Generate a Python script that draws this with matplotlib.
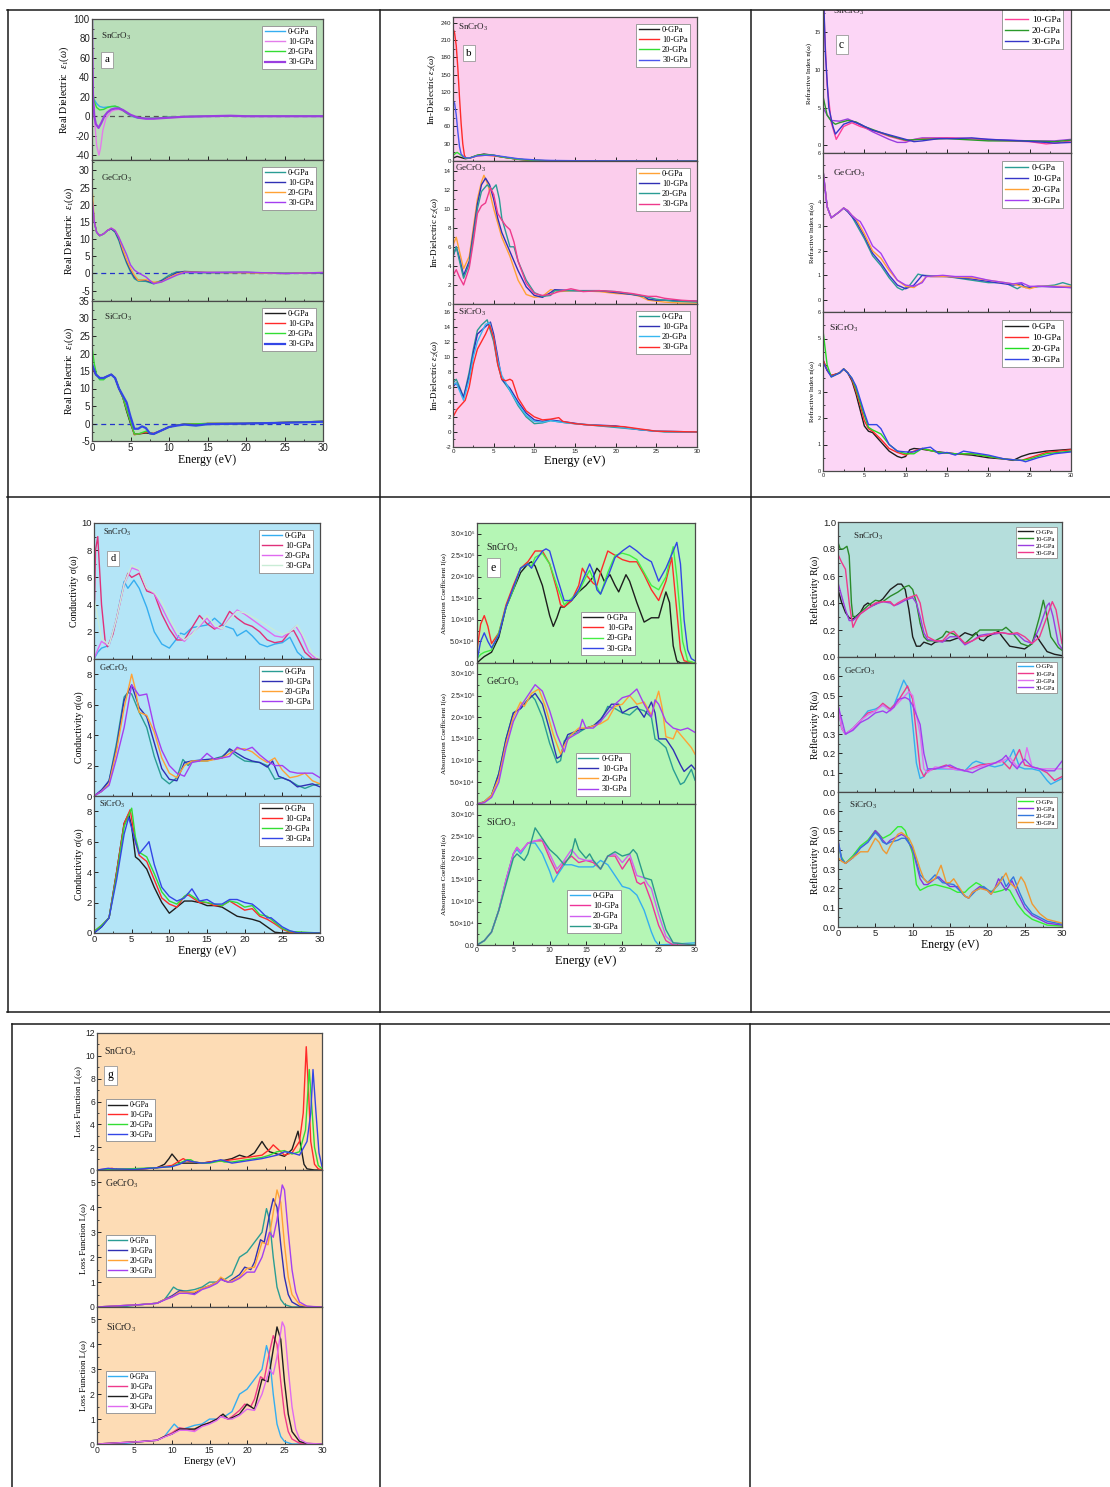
import matplotlib

matplotlib.use("Agg")

import matplotlib.pyplot as plt  # noqa: E402
from matplotlib.lines import Line2D  # noqa: E402
from matplotlib.patches import Rectangle  # noqa: E402
from matplotlib.ticker import MultipleLocator, FixedLocator, FixedFormatter  # noqa: E402

W, H = 1110, 1487
SERIF = ["Liberation Serif", "DejaVu Serif"]
SANS = ["Liberation Sans", "DejaVu Sans"]
plt.rcParams["font.family"] = SANS
plt.rcParams["mathtext.fontset"] = "custom"
plt.rcParams["mathtext.rm"] = "Liberation Serif"
plt.rcParams["mathtext.it"] = "Liberation Serif:italic"
plt.rcParams["mathtext.bf"] = "Liberation Serif:bold"

PRESSURES = ["0-GPa", "10-GPa", "20-GPa", "30-GPa"]
PRESSURES_O = ["O-GPa", "10-GPa", "20-GPa", "30-GPa"]
TITLES = ["SnCrO$_3$", "GeCrO$_3$", "SiCrO$_3$"]

# ---------------- (a) real dielectric eps1 ----------------
A_SN = {
    "0-GPa": [(0, 20), (0.3, 17), (0.6, 13), (1, 10), (1.5, 9), (2, 9.5), (2.5, 10), (3, 10), (3.5, 9), (4, 6), (4.5, 3), (5, 0.5), (5.5, -1), (6, -2), (7, -2.3), (8, -2.2), (9, -1.5), (10, -1), (12, -0.5), (15, 0), (18, 0.3), (20, 0), (25, 0), (30, 0)],
    "10-GPa": [(0, 110), (0.1, 40), (0.3, 0), (0.6, -30), (0.9, -40), (1.1, -33), (1.4, -15), (1.8, -2), (2.5, 5), (3, 6.5), (3.5, 7), (4, 5.5), (4.5, 3), (5, 1), (5.5, -0.5), (6, -1.5), (7, -2.5), (8, -2.5), (9, -2), (10, -1.5), (12, -0.5), (15, 0), (18, 0.5), (20, 0), (25, 0), (30, 0)],
    "20-GPa": [(0, 45), (0.1, 25), (0.3, 15), (0.6, 9), (1, 6.5), (1.5, 7), (2, 9), (2.5, 10), (3, 10.5), (3.5, 9), (4, 6), (4.5, 3), (5, 1), (5.5, -0.5), (6, -1.5), (7, -2.2), (8, -2), (10, -1), (12, -0.3), (15, 0), (20, 0), (25, 0), (30, 0)],
    "30-GPa": [(0, 110), (0.05, 60), (0.12, 20), (0.3, 0), (0.5, -8), (0.85, -12), (1.2, -7), (1.6, 0), (2, 4), (2.5, 7), (3, 8), (3.5, 8), (4, 6.5), (4.5, 4), (5, 1.5), (5.5, 0), (6, -1.5), (7, -2.5), (8, -2.5), (9, -2), (10, -1.5), (12, -0.5), (15, 0), (18, 0.5), (20, 0), (25, 0), (30, 0)],
}
A_GE = {
    "0-GPa": [(0, 22), (0.3, 15), (0.6, 12), (1, 11), (1.5, 11.5), (2, 12.5), (2.5, 13), (3, 12), (3.5, 9.5), (4, 6), (4.5, 3), (5, 0.5), (5.5, -1.5), (6, -2.2), (7, -2.3), (8, -3), (9, -2), (10, -0.5), (11, 0.5), (12, 0.3), (15, 0.2), (20, 0.3), (25, 0.1), (30, 0.2)],
    "10-GPa": [(0, 22), (0.3, 15), (0.6, 12), (1, 11), (1.5, 11.5), (2, 12.5), (2.5, 13), (3, 12.2), (3.5, 10), (4, 6.5), (4.5, 3.5), (5, 1), (5.5, -1), (6, -2), (7, -2), (8, -2.8), (9, -2.2), (10, -1), (11, 0.2), (12, 0.6), (15, 0.3), (20, 0.3), (25, 0), (30, 0.2)],
    "20-GPa": [(0, 25), (0.3, 15), (0.6, 12), (1, 11), (1.5, 11.5), (2, 12.5), (2.5, 13.2), (3, 12.5), (3.5, 10.5), (4, 7), (4.5, 4), (5, 1.5), (5.5, -0.5), (6, -2), (7, -1.8), (8, -2.5), (9, -2.5), (10, -1.2), (11, -0.2), (12, 0.4), (15, 0.3), (20, 0.2), (25, 0), (30, 0.3)],
    "30-GPa": [(0, 22), (0.3, 15), (0.6, 12), (1, 11), (1.5, 11.5), (2, 12.5), (2.5, 13.2), (3, 12.5), (3.5, 10.5), (4, 8), (4.5, 5.5), (5, 2.5), (5.5, 1), (6, 0.2), (7, -1), (8, -3), (9, -2.5), (10, -1.5), (11, -0.5), (12, 0.3), (15, 0.3), (20, 0.4), (25, 0), (30, 0.3)],
}
A_SI = {
    "0-GPa": [(0, 16), (0.5, 14), (1, 13), (1.5, 13), (2, 13.5), (2.5, 14), (3, 13), (3.5, 10), (4, 7.5), (4.5, 3.5), (5, 0), (5.5, -3), (6, -3), (7, -2.7), (8, -3), (9, -2), (10, -1), (11, -0.5), (12, -0.2), (14, -0.3), (15, 0), (20, 0), (25, 0.3), (30, 0.6)],
    "10-GPa": [(0, 16), (0.5, 14), (1, 13), (1.5, 13), (2, 13.5), (2.5, 14), (3, 13), (3.5, 10), (4, 7.5), (4.5, 4), (5, 0.5), (5.5, -3.2), (6, -3), (7, -2.5), (8, -2.8), (9, -2), (10, -1), (11, -0.5), (12, -0.2), (15, 0), (20, 0), (25, 0.3), (30, 0.6)],
    "20-GPa": [(0, 22), (0.3, 17), (0.6, 14), (1, 12.5), (1.5, 12.5), (2, 13.5), (2.5, 14), (3, 13), (3.5, 10), (4, 7.5), (4.5, 4), (5, 0.5), (5.5, -3), (6, -3), (7, -2.2), (8, -3), (9, -2), (10, -1), (11, -0.5), (12, -0.2), (15, 0), (20, 0), (25, 0.3), (30, 0.6)],
    "30-GPa": [(0, 17), (0.5, 14), (1, 13), (1.5, 13), (2, 13.5), (2.5, 14), (3, 13), (3.5, 10), (4, 8), (4.5, 6), (5, 2), (5.5, -1.5), (6, -1.5), (6.5, -0.8), (7, -1.3), (7.5, -2.8), (8, -3), (9, -2), (10, -1), (11, -0.6), (12, -0.3), (13.5, -0.6), (15, -0.2), (20, 0), (25, 0.2), (30, 0.5)],
}

# ---------------- (b) imaginary dielectric eps2 ----------------
B_SN = {
    "0-GPa": [(0, 5), (0.5, 8), (1, 6), (1.5, 4), (2, 5), (3, 10), (3.8, 12), (5, 10), (6, 7), (7, 5), (8, 3), (10, 1), (12, 0.2), (15, 0), (30, 0)],
    "10-GPa": [(0, 230), (0.2, 222), (0.4, 200), (0.6, 160), (0.8, 110), (1, 65), (1.2, 30), (1.4, 10), (1.6, 5), (2, 5), (3, 9), (4, 10), (5, 9), (6, 7), (7, 5), (8, 3), (10, 1), (12, 0.3), (15, 0), (30, 0)],
    "20-GPa": [(0, 10), (0.5, 15), (1, 10), (1.5, 5), (2, 5), (3, 10), (4, 11), (5, 10), (6, 7), (8, 3), (10, 1), (12, 0.3), (15, 0), (30, 0)],
    "30-GPa": [(0, 105), (0.2, 100), (0.4, 80), (0.6, 50), (0.8, 25), (1, 12), (1.4, 6), (2, 5), (3, 9), (4, 10), (5, 10), (6, 8), (8, 4), (10, 2), (12, 1), (15, 0.5), (20, 0.3), (30, 0)],
}
B_GE = {
    "0-GPa": [(0, 6.2), (0.4, 7), (0.8, 5.5), (1.3, 3.7), (2, 5), (2.5, 8), (3, 11), (3.5, 12.8), (3.8, 13.5), (4.3, 12.5), (5, 10), (5.5, 8.5), (6, 7), (7, 5), (8, 2.5), (9, 1), (10, 0.7), (11, 0.8), (12, 1.5), (13, 1.3), (15, 1.4), (18, 1.3), (20, 1.1), (22, 1), (23, 0.8), (24, 0.4), (26, 0.2), (28, 0.1), (30, 0.1)],
    "10-GPa": [(0, 5), (0.4, 6), (0.8, 4.8), (1.3, 3), (2, 4.5), (2.5, 7.5), (3, 10.5), (3.5, 12.5), (4, 13.2), (4.5, 12.5), (5, 11), (5.5, 9), (6, 7.5), (7, 5.5), (8, 3.5), (9, 1.8), (10, 0.9), (11, 0.7), (12, 1.2), (12.5, 1.5), (15, 1.4), (18, 1.4), (20, 1.2), (22, 1), (23.5, 0.8), (24, 0.5), (25, 0.4), (26, 0.4), (30, 0.3)],
    "20-GPa": [(0, 5), (0.4, 6), (0.8, 4.5), (1.3, 2.7), (2, 4.2), (2.5, 7), (3, 10), (3.5, 11.8), (4.2, 12.5), (4.8, 12), (5.3, 12.5), (5.7, 11), (6, 9), (7, 6), (7.5, 6), (8, 4.5), (9, 2.5), (10, 1.2), (11, 0.8), (12, 0.9), (12.5, 1.4), (15, 1.4), (18, 1.4), (20, 1.3), (23, 0.9), (25, 0.5), (27, 0.3), (30, 0.2)],
    "30-GPa": [(0, 3), (0.4, 3.6), (0.8, 2.8), (1.3, 2), (2, 3.8), (2.5, 6.5), (3, 9.5), (3.5, 10.3), (4, 10.6), (4.6, 12.2), (5, 11.5), (5.5, 9.5), (6, 8.8), (6.5, 8.2), (7, 7.8), (7.5, 6.5), (8, 4.5), (9, 2.2), (10, 1.1), (11, 0.9), (12, 1.0), (13, 1.3), (14.5, 1.6), (16, 1.3), (18, 1.4), (20, 1.3), (22, 1.1), (24, 0.8), (25, 0.8), (26, 0.6), (28, 0.4), (30, 0.3)],
}
B_SI = {
    "0-GPa": [(0, 6.5), (0.4, 7), (0.8, 6), (1.3, 4.6), (2, 8), (2.5, 11), (3, 13.5), (3.5, 14.2), (4.2, 14.9), (5, 12), (5.5, 9), (6, 7), (7, 5.5), (8, 3.5), (9, 2), (10, 1.1), (11, 1.2), (12, 1.5), (14, 1.2), (16, 1), (20, 0.6), (24, 0.2), (26, 0), (30, 0)],
    "10-GPa": [(0, 6), (0.4, 6.5), (0.8, 5.8), (1.3, 4.6), (2, 7.5), (2.5, 10.5), (3, 13), (4, 14), (4.6, 14.6), (5, 13), (5.5, 10), (6, 7), (7, 5.8), (8, 4), (9, 2.5), (10, 1.6), (11, 1.4), (12, 1.6), (14, 1.3), (16, 1), (20, 0.8), (23, 0.3), (25, 0.1), (30, 0)],
    "20-GPa": [(0, 6.3), (0.4, 6.5), (0.8, 5.5), (1.3, 4.2), (2, 7), (2.5, 10), (3, 12), (4, 14.3), (4.5, 14.5), (5, 12.5), (5.5, 9.5), (6, 7.5), (7, 5.5), (8, 3.7), (9, 2.2), (10, 1.4), (11, 1.3), (12, 1.5), (14, 1.2), (16, 1), (20, 0.7), (23, 0.3), (25, 0.1), (30, 0)],
    "30-GPa": [(0, 2), (0.5, 3), (1, 3.6), (1.5, 4.2), (2, 6), (2.5, 9), (3, 11), (3.5, 12), (4, 13), (4.5, 14.2), (5, 12.5), (5.5, 9), (6, 7), (6.5, 6.8), (7, 7), (7.3, 6.8), (8, 4.5), (9, 2.8), (10, 2), (11, 1.6), (12, 1.7), (13, 1.9), (13.5, 1.4), (15, 1.1), (17, 0.9), (19, 0.8), (21, 0.7), (23, 0.4), (25, 0.1), (30, 0)],
}

# ---------------- (c) refractive index ----------------
C_SN = {
    "0-GPa": [(0, 5), (0.5, 4), (1, 3.3), (2, 3.2), (3, 3.5), (4, 3), (5, 2.4), (6, 1.8), (8, 0.8), (9, 0.4), (10, 0.4), (11, 0.8), (12, 1.0), (15, 1), (20, 0.8), (25, 0.6), (28, 0.6), (30, 0.8)],
    "10-GPa": [(0, 22), (0.2, 15), (0.5, 8), (1, 3), (1.6, 0.8), (2.5, 2.5), (3.5, 3), (4.5, 2.5), (6, 2), (8, 1.2), (10, 0.6), (12, 0.9), (15, 1), (18, 0.9), (20, 0.7), (25, 0.5), (27, 0.2), (28, 0.3), (30, 0.6)],
    "20-GPa": [(0, 6.5), (0.5, 4), (1, 3.2), (1.5, 2.8), (2, 3), (3, 3.3), (4, 3.1), (5, 2.5), (6, 2.1), (8, 1.3), (10, 0.7), (12, 0.8), (15, 0.9), (20, 0.6), (25, 0.6), (28, 0.5), (30, 0.7)],
    "30-GPa": [(0, 22), (0.3, 12), (0.7, 5), (1.2, 2.5), (1.5, 1.5), (2.5, 2.8), (3.5, 3.2), (4.5, 2.8), (6, 2), (8, 1.4), (10, 0.8), (11, 0.5), (12, 0.6), (14, 0.9), (16, 0.9), (18, 1), (20, 0.8), (24, 0.6), (27, 0.4), (28, 0.3), (30, 0.4)],
}
C_GE = {
    "0-GPa": [(0, 5.3), (0.5, 3.8), (1, 3.35), (2, 3.6), (2.5, 3.75), (3, 3.6), (3.5, 3.4), (4, 3.1), (5, 2.5), (6, 1.8), (7, 1.4), (8, 0.9), (9, 0.5), (9.6, 0.4), (10.5, 0.6), (11.5, 1.05), (12, 1.0), (15, 0.95), (18, 0.8), (20, 0.7), (22, 0.7), (23.5, 0.45), (24, 0.55), (25, 0.5), (28, 0.6), (29, 0.7), (30, 0.6)],
    "10-GPa": [(0, 5.3), (0.5, 3.8), (1, 3.35), (2, 3.6), (2.5, 3.75), (3, 3.6), (3.5, 3.4), (4, 3.2), (5, 2.6), (6, 1.9), (7, 1.5), (8, 1.0), (9, 0.6), (10, 0.45), (11, 0.6), (12, 1.0), (13, 0.95), (15, 0.95), (18, 0.85), (20, 0.75), (23, 0.6), (24, 0.65), (24.5, 0.5), (26, 0.55), (30, 0.5)],
    "20-GPa": [(0, 5.3), (0.5, 3.8), (1, 3.35), (2, 3.6), (2.5, 3.75), (3, 3.65), (3.5, 3.45), (4, 3.3), (5, 2.7), (6, 2.0), (7, 1.7), (8, 1.2), (9, 0.8), (10, 0.55), (11, 0.5), (12, 0.75), (12.5, 0.95), (15, 0.95), (18, 0.9), (20, 0.8), (23, 0.65), (25, 0.45), (26, 0.55), (30, 0.55)],
    "30-GPa": [(0, 5.3), (0.5, 3.8), (1, 3.35), (2, 3.6), (2.5, 3.75), (3, 3.65), (3.5, 3.45), (4, 3.3), (4.5, 3.2), (5, 2.9), (6, 2.2), (7, 1.9), (7.5, 1.6), (8, 1.3), (9, 0.8), (10, 0.6), (11, 0.55), (12, 0.7), (12.5, 0.95), (14.5, 1.0), (16, 0.95), (18, 0.95), (20, 0.8), (23, 0.65), (24, 0.7), (25, 0.55), (27, 0.55), (30, 0.5)],
}
C_SI = {
    "0-GPa": [(0, 4.2), (0.5, 3.8), (1, 3.6), (2, 3.7), (2.5, 3.85), (3, 3.7), (3.5, 3.4), (4, 2.9), (4.5, 2.3), (5, 1.7), (5.5, 1.5), (6, 1.45), (7, 1.1), (8, 0.75), (9, 0.55), (9.5, 0.5), (10, 0.55), (10.5, 0.8), (11, 0.85), (12, 0.82), (14, 0.72), (16, 0.65), (18, 0.6), (20, 0.5), (22, 0.45), (23, 0.4), (24, 0.55), (25, 0.65), (27, 0.75), (30, 0.82)],
    "10-GPa": [(0, 4.2), (0.5, 3.8), (1, 3.6), (2, 3.7), (2.5, 3.85), (3, 3.7), (3.5, 3.45), (4, 3.0), (4.5, 2.5), (5, 1.9), (5.5, 1.6), (6, 1.5), (7, 1.2), (8, 0.85), (9, 0.7), (10, 0.6), (11, 0.75), (12, 0.85), (14, 0.7), (16, 0.65), (18, 0.65), (20, 0.55), (22, 0.45), (24, 0.4), (25, 0.5), (27, 0.7), (30, 0.8)],
    "20-GPa": [(0, 5.3), (0.5, 4.0), (1, 3.55), (2, 3.7), (2.5, 3.85), (3, 3.7), (3.5, 3.5), (4, 3.1), (5, 2.1), (5.5, 1.65), (6, 1.55), (7, 1.4), (8, 1.0), (9, 0.75), (10, 0.65), (11, 0.65), (12, 0.85), (14, 0.7), (16, 0.65), (18, 0.65), (20, 0.55), (22, 0.45), (24, 0.4), (25, 0.45), (27, 0.65), (30, 0.75)],
    "30-GPa": [(0, 4.1), (0.5, 3.8), (1, 3.55), (2, 3.7), (2.5, 3.85), (3, 3.7), (3.5, 3.5), (4, 3.2), (5, 2.2), (5.5, 1.75), (6, 1.75), (6.5, 1.75), (7, 1.6), (8, 1.0), (9, 0.75), (10, 0.72), (11, 0.72), (12, 0.85), (13, 0.9), (14, 0.65), (15, 0.7), (16, 0.6), (17, 0.75), (18, 0.7), (20, 0.6), (22, 0.45), (24, 0.4), (24.5, 0.35), (26, 0.5), (28, 0.65), (30, 0.72)],
}

# ---------------- (d) optical conductivity ----------------
D_SN = {
    "0-GPa": [(0, 0), (0.5, 0.5), (1, 0.8), (2, 1), (3, 3), (4, 5.7), (4.5, 5.2), (5.3, 5.8), (6, 5.2), (7, 3.8), (8, 2), (9, 1.1), (10, 0.8), (11, 1.5), (11.5, 1.9), (12, 1.8), (13, 2.3), (15, 2.5), (16, 3.0), (17, 2.5), (18, 2.3), (18.5, 2.2), (19, 1.7), (20.2, 2.1), (21, 1.7), (22, 1.1), (23, 0.9), (24, 1.1), (25, 1.2), (26, 1.6), (27, 0.5), (28, 0), (30, 0)],
    "10-GPa": [(0, 2), (0.2, 8), (0.5, 9), (1, 4), (1.5, 1.2), (1.8, 0.9), (2.5, 1.8), (3, 3), (4, 5.5), (4.5, 6.3), (5, 6.0), (6, 6.3), (7, 5.0), (8, 4.8), (9, 3.3), (10, 2.2), (11, 1.4), (12, 1.4), (13, 2.3), (14, 3.2), (15, 2.6), (16, 2.2), (17, 2.5), (18, 3.5), (19, 3.0), (20, 2.6), (21, 2.4), (22, 2.0), (23, 1.4), (24, 1.2), (25, 1.3), (26, 2.0), (26.5, 2.1), (27, 1.6), (28, 0.5), (29, 0), (30, 0)],
    "20-GPa": [(0, 0), (0.5, 0.7), (1, 1.3), (1.5, 1.1), (2, 1.0), (3, 3), (4, 5.5), (5, 6.7), (6, 6.5), (7, 5.2), (8, 4.8), (9, 3.8), (10, 2.7), (11, 1.7), (12, 1.3), (13, 1.9), (14, 2.4), (15, 3.0), (16, 2.3), (17, 2.2), (18, 3.0), (19, 3.6), (20, 3.3), (22, 2.5), (23, 2.1), (24, 1.7), (25, 1.6), (26, 2.0), (26.8, 2.4), (27.5, 1.8), (28.5, 0.5), (29.5, 0), (30, 0)],
    "30-GPa": [(0, 4.5), (0.5, 3), (1, 1.5), (2, 1), (3, 3), (4, 5.5), (5, 6.9), (6, 6.6), (7, 5.2), (8, 4.9), (9, 4.2), (10, 3.0), (11, 2.0), (12, 1.4), (13, 1.8), (14, 2.5), (15, 3.2), (16, 2.5), (17, 2.2), (18, 2.9), (19, 3.5), (20, 3.4), (22, 2.8), (24, 2.1), (25, 1.8), (26, 2.0), (27, 2.5), (28, 1.5), (29, 0.4), (30, 0)],
}
D_GE = {
    "0-GPa": [(0, 0), (1, 0.3), (2, 1), (3, 3.5), (4, 6.5), (4.5, 6.8), (5, 6.7), (6, 5.5), (7, 4.5), (8, 2.6), (9, 1.2), (10, 0.8), (11, 1.2), (11.8, 2.4), (12.5, 2.0), (13, 2.3), (15, 2.3), (17, 2.6), (18, 3.0), (19, 2.6), (20, 2.3), (22, 2.2), (23, 2.0), (24, 1.1), (25, 1.2), (26, 1.0), (27, 0.7), (28, 0.5), (29, 0.7), (30, 0.8)],
    "10-GPa": [(0, 0), (1, 0.4), (2, 1), (3, 3.2), (4, 6.3), (5, 7.3), (6, 5.8), (7, 5.2), (8, 3.5), (9, 1.8), (10, 1.1), (11, 1.0), (12, 2.2), (13, 2.3), (15, 2.4), (17, 2.5), (18, 3.1), (19, 2.8), (20, 2.5), (21, 2.3), (22, 2.2), (23, 1.9), (23.7, 2.3), (24.5, 1.3), (26, 1.0), (27, 0.6), (29, 0.8), (30, 0.6)],
    "20-GPa": [(0, 0), (1, 0.3), (2, 0.8), (3, 3), (4, 5.8), (5, 8.0), (5.5, 7), (6, 5.5), (7, 5.3), (8, 4.2), (9, 2.5), (10, 1.5), (11, 1.2), (12, 2.0), (13, 2.3), (15, 2.3), (17, 2.5), (18, 2.8), (19, 3.1), (20, 3.1), (21, 2.9), (22, 2.5), (23, 2.2), (24, 2.5), (25, 1.7), (26, 1.2), (27, 1.3), (28, 1.5), (29, 1.0), (30, 0.8)],
    "30-GPa": [(0, 0), (1, 0.3), (2, 0.7), (3, 2.5), (4, 4.5), (5, 7.3), (6, 6.6), (7, 6.7), (8, 4.5), (9, 3.0), (10, 2.0), (11, 1.5), (12, 1.3), (13, 2.2), (14, 2.3), (15, 2.8), (16, 2.4), (17, 2.5), (18, 2.6), (19, 3.2), (20, 3.0), (21, 3.2), (22, 2.7), (23, 2.3), (24, 2.0), (25, 2.0), (26, 1.6), (27, 1.5), (28, 1.5), (29, 1.5), (30, 1.2)],
}
D_SI = {
    "0-GPa": [(0, 0), (1, 0.4), (2, 1), (3, 4), (4, 7.2), (4.6, 7.8), (5, 7), (5.5, 5), (6, 4.8), (7, 4.2), (8, 3), (9, 2), (10, 1.3), (11, 1.7), (12, 2.1), (13, 2.1), (14, 2.0), (15, 1.8), (16, 1.8), (17, 1.7), (18, 1.4), (19, 1.1), (20, 1.0), (21, 0.9), (22, 0.75), (23, 0.4), (24, 0.05), (25, 0), (30, 0)],
    "10-GPa": [(0, 0.1), (1, 0.5), (2, 1), (3, 4), (4, 7.2), (4.8, 8.1), (5.5, 6), (6, 5.1), (7, 4.7), (8, 3.5), (9, 2.3), (10, 1.9), (11, 1.7), (12, 2.4), (12.5, 2.5), (14, 2.0), (15, 2.0), (16, 1.8), (17, 1.8), (18, 2.1), (19, 1.8), (20, 1.5), (21, 1.6), (22, 1.1), (23, 0.9), (24, 0.6), (25, 0.25), (26, 0.05), (30, 0)],
    "20-GPa": [(0, 0.1), (1, 0.5), (2, 1), (3, 3.8), (4, 7), (5, 8.2), (5.5, 6.3), (6, 5.3), (7, 5.0), (8, 3.9), (9, 2.7), (10, 2.1), (11, 1.9), (12, 2.4), (12.5, 2.6), (14, 2.1), (15, 2.0), (16, 1.9), (17, 1.8), (18, 2.1), (19, 2.0), (20, 1.7), (21, 1.8), (22, 1.2), (23, 1.1), (24, 0.7), (25, 0.3), (26, 0.1), (30, 0)],
    "30-GPa": [(0, 0), (1, 0.4), (2, 1), (3, 3.5), (4, 6.5), (4.6, 7.6), (5.5, 6), (6, 5.2), (7, 5.8), (7.3, 6.0), (8, 4.5), (9, 3), (10, 2.4), (11, 2.1), (12, 2.3), (13, 2.9), (13.5, 2.5), (14, 2.1), (15, 2.2), (16, 1.9), (17, 1.9), (18, 2.2), (19, 2.2), (20, 2.0), (21, 1.9), (22, 1.5), (23, 1.0), (23.5, 1.0), (24, 0.8), (25, 0.4), (26, 0.15), (27, 0.02), (30, 0)],
}

# ---------------- (e) absorption coefficient, units of 1e5 ----------------
E_SN = {
    "0-GPa": [(0, 0), (0.5, 0.08), (1, 0.15), (2, 0.25), (3, 0.6), (4, 1.3), (5, 1.7), (6, 2.1), (7, 2.3), (7.5, 2.35), (8, 2.25), (9, 1.8), (10, 1.1), (10.5, 0.85), (11, 1.05), (11.5, 1.3), (12, 1.3), (13, 1.45), (14, 1.65), (15, 1.8), (16, 2.0), (16.5, 2.2), (17, 2.1), (17.5, 1.9), (18.3, 2.05), (19, 1.8), (19.5, 1.65), (20.5, 2.05), (21, 1.9), (22, 1.4), (23, 0.95), (24, 1.05), (25, 1.05), (26, 1.65), (26.5, 1.4), (27, 0.4), (27.5, 0.05), (28, 0), (30, 0)],
    "10-GPa": [(0, 0.3), (0.5, 0.9), (1, 1.1), (1.5, 0.85), (2, 0.45), (3, 0.7), (4, 1.35), (5, 1.8), (6, 2.2), (7, 2.35), (8, 2.6), (9, 2.6), (10, 2.3), (11, 1.7), (11.5, 1.35), (12, 1.3), (13, 1.45), (14, 1.8), (14.5, 2.2), (15, 2.05), (16, 1.85), (16.5, 1.8), (17, 2.1), (18, 2.6), (19, 2.5), (20, 2.4), (21, 2.35), (22, 2.35), (23, 2.05), (24, 1.7), (25, 1.45), (26, 1.9), (26.8, 2.45), (27.5, 1.2), (28, 0.3), (28.5, 0.05), (30, 0)],
    "20-GPa": [(0, 0.1), (0.5, 0.2), (1, 0.25), (2, 0.3), (3, 0.7), (4, 1.3), (5, 1.7), (6, 2.2), (7, 2.3), (7.5, 2.25), (8, 2.45), (9, 2.55), (10, 2.3), (11, 1.8), (12, 1.35), (13, 1.5), (14, 1.65), (15, 2.0), (15.5, 2.15), (16, 1.95), (17, 1.6), (18, 2.1), (19, 2.5), (20, 2.55), (21, 2.5), (22, 2.4), (23, 2.1), (24, 1.8), (25, 1.7), (26, 2.0), (27, 2.7), (27.5, 2.0), (28.3, 0.5), (29, 0.05), (30, 0)],
    "30-GPa": [(0, 0.05), (0.5, 0.5), (1, 0.7), (1.5, 0.5), (2, 0.35), (3, 0.65), (4, 1.3), (5, 1.75), (6, 2.2), (7, 2.3), (7.5, 2.2), (8, 2.35), (9, 2.6), (9.5, 2.65), (10, 2.6), (11, 2.0), (12, 1.45), (13, 1.45), (14, 1.7), (15, 2.1), (15.5, 2.3), (16, 2.1), (16.5, 1.7), (17, 1.6), (18, 2.0), (19, 2.45), (20, 2.6), (21, 2.72), (22, 2.6), (23, 2.45), (24, 2.35), (25, 1.9), (26, 2.2), (27, 2.6), (27.5, 2.8), (28, 2.3), (28.5, 1.0), (29, 0.3), (29.5, 0.1), (30, 0.05)],
}
E_GE = {
    "0-GPa": [(0, 0), (1, 0.05), (2, 0.2), (3, 0.7), (4, 1.5), (5, 2.1), (6, 2.2), (7, 2.4), (7.5, 2.5), (8, 2.4), (9, 2.0), (10, 1.4), (11, 0.95), (11.5, 1.0), (12, 1.45), (13, 1.6), (14, 1.65), (15, 1.75), (16, 1.8), (17, 1.9), (18, 2.25), (19, 2.2), (20, 2.1), (21, 2.05), (22, 2.2), (23, 2.15), (24, 2.0), (24.5, 1.5), (25, 1.45), (26, 1.3), (27, 0.8), (28, 0.45), (28.5, 0.5), (29.5, 0.8), (30, 0.55)],
    "10-GPa": [(0, 0), (1, 0.05), (2, 0.2), (3, 0.7), (4, 1.5), (5, 2.1), (6, 2.2), (7, 2.4), (8, 2.55), (9, 2.3), (10, 1.7), (11, 1.05), (11.5, 1.1), (12, 1.4), (12.5, 1.6), (14, 1.7), (16, 1.8), (17, 1.95), (18.5, 2.3), (19.5, 2.3), (20, 2.1), (21, 2.2), (22, 2.25), (23, 2.0), (24, 2.35), (24.5, 2.1), (25, 1.5), (26, 1.5), (27, 1.25), (28, 0.9), (28.5, 0.75), (29.5, 0.9), (30, 0.8)],
    "20-GPa": [(0, 0), (1, 0.05), (2, 0.2), (3, 0.6), (4, 1.4), (5, 2.0), (6, 2.35), (6.5, 2.25), (7.5, 2.55), (8.5, 2.65), (9.5, 2.2), (10.5, 1.6), (11.5, 1.15), (12, 1.35), (13, 1.6), (14, 1.75), (15, 1.75), (16, 1.8), (17, 1.85), (18, 1.95), (19, 2.25), (20, 2.3), (21, 2.5), (22, 2.3), (23, 2.35), (24, 2.05), (25, 2.6), (25.5, 2.2), (26, 1.55), (27, 1.5), (27.5, 1.7), (28.5, 1.5), (29.5, 1.3), (30, 1.15)],
    "30-GPa": [(0, 0), (1, 0.03), (2, 0.15), (3, 0.5), (4, 1.3), (5, 1.9), (6, 2.25), (7, 2.5), (8, 2.75), (9, 2.6), (10, 2.15), (11, 1.6), (12, 1.2), (12.5, 1.5), (13, 1.55), (14, 1.65), (14.5, 1.95), (15, 1.75), (16, 1.75), (17, 1.9), (18, 2.1), (19, 2.3), (20, 2.45), (21, 2.5), (22, 2.65), (23, 2.3), (24, 2.0), (24.5, 2.4), (25, 2.3), (26, 1.9), (27, 1.75), (28, 1.7), (29, 1.75), (30, 1.65)],
}
E_SI = {
    "0-GPa": [(0, 0), (1, 0.1), (2, 0.3), (3, 0.8), (4, 1.5), (5, 2.1), (5.5, 2.2), (6, 2.1), (7, 2.35), (8, 2.35), (9, 2.1), (10, 1.7), (10.5, 1.45), (11, 1.6), (12, 1.85), (13, 1.85), (14, 1.8), (15, 1.8), (16, 1.8), (17, 1.95), (18, 1.85), (19, 1.6), (20, 1.35), (21, 1.3), (22, 1.15), (23, 0.8), (24, 0.3), (24.5, 0.1), (25, 0), (30, 0.05)],
    "10-GPa": [(0, 0), (1, 0.1), (2, 0.3), (3, 0.8), (4, 1.5), (5, 2.1), (5.5, 2.25), (6, 2.15), (7, 2.35), (8, 2.4), (9, 2.4), (10, 2.0), (11, 1.65), (12, 1.9), (13, 2.05), (14, 1.9), (15, 1.95), (16, 1.9), (17, 1.75), (18, 2.05), (19, 2.05), (20, 1.75), (21, 2.0), (22, 1.45), (22.5, 1.4), (23, 1.45), (24, 1.0), (25, 0.45), (26, 0.1), (27, 0), (30, 0)],
    "20-GPa": [(0, 0), (1, 0.1), (2, 0.3), (3, 0.8), (4, 1.5), (5, 2.1), (5.5, 2.25), (6, 2.15), (7, 2.35), (8, 2.4), (9, 2.45), (10, 2.1), (11, 1.75), (12, 1.95), (13, 2.2), (14, 2.0), (15, 1.95), (16, 1.95), (17, 1.75), (18, 2.05), (19, 2.1), (20, 1.9), (21, 2.1), (22, 1.6), (23, 1.55), (23.5, 1.4), (24, 1.3), (25, 0.7), (26, 0.2), (27, 0.05), (30, 0)],
    "30-GPa": [(0, 0), (1, 0.1), (2, 0.3), (3, 0.8), (4, 1.4), (5, 2.0), (5.5, 2.1), (6.5, 1.95), (7, 2.1), (8, 2.7), (9, 2.45), (10, 2.2), (11, 2.05), (12, 1.85), (13, 2.1), (13.5, 2.45), (14, 2.2), (15, 2.0), (15.5, 2.1), (16, 1.95), (17, 1.75), (18, 2.05), (19, 2.15), (20, 2.05), (21, 2.1), (21.5, 2.2), (22, 2.1), (23, 1.55), (24, 1.5), (25, 0.9), (26, 0.35), (27, 0.05), (30, 0)],
}

# ---------------- (f) reflectivity ----------------
F_SN = {
    "O-GPa": [(0, 0.5), (0.5, 0.4), (1, 0.33), (1.5, 0.29), (2, 0.28), (3, 0.33), (3.5, 0.38), (4, 0.4), (4.5, 0.38), (5, 0.39), (6, 0.43), (7, 0.5), (8, 0.54), (8.5, 0.54), (9, 0.5), (9.5, 0.35), (10, 0.15), (10.5, 0.08), (11, 0.08), (11.5, 0.11), (12, 0.1), (12.5, 0.09), (13, 0.11), (14, 0.12), (15, 0.12), (16, 0.14), (17, 0.18), (18, 0.16), (18.5, 0.18), (19, 0.13), (19.5, 0.12), (20, 0.15), (21.5, 0.19), (22, 0.15), (23, 0.08), (24, 0.07), (25, 0.06), (26, 0.1), (26.5, 0.17), (27, 0.12), (28, 0.04), (29, 0.02), (30, 0.01)],
    "10-GPa": [(0, 0.85), (0.3, 0.8), (0.7, 0.8), (1.2, 0.82), (1.5, 0.75), (1.8, 0.4), (2, 0.3), (2.5, 0.3), (3, 0.33), (4, 0.38), (5, 0.42), (6, 0.41), (7, 0.45), (8, 0.48), (9, 0.52), (9.5, 0.53), (10, 0.5), (10.5, 0.4), (11, 0.25), (11.5, 0.15), (12, 0.12), (13, 0.12), (14, 0.15), (14.5, 0.19), (15.5, 0.17), (16, 0.15), (17, 0.1), (18, 0.15), (19, 0.2), (20, 0.2), (21, 0.2), (22, 0.2), (22.5, 0.22), (23.5, 0.17), (24.5, 0.1), (25.5, 0.08), (26, 0.1), (27, 0.3), (27.5, 0.42), (28, 0.3), (28.5, 0.15), (29.5, 0.07), (30, 0.05)],
    "20-GPa": [(0, 0.55), (0.5, 0.45), (1, 0.35), (1.5, 0.27), (2, 0.27), (3, 0.32), (4, 0.36), (5, 0.39), (6, 0.41), (7, 0.4), (7.5, 0.38), (8, 0.39), (9, 0.42), (10, 0.44), (10.5, 0.4), (11, 0.3), (11.5, 0.18), (12, 0.13), (13, 0.12), (14, 0.11), (15, 0.15), (16, 0.15), (17, 0.09), (18, 0.12), (19, 0.16), (20, 0.17), (21, 0.17), (22, 0.18), (23, 0.17), (24, 0.17), (25, 0.12), (26, 0.1), (27, 0.22), (28, 0.38), (28.3, 0.4), (28.8, 0.3), (29.5, 0.1), (30, 0.06)],
    "30-GPa": [(0, 0.76), (0.5, 0.7), (1, 0.65), (1.5, 0.4), (2, 0.22), (2.5, 0.28), (3, 0.32), (4, 0.36), (5, 0.4), (6, 0.41), (7, 0.41), (7.5, 0.38), (8, 0.4), (9, 0.43), (10, 0.45), (10.5, 0.46), (11, 0.4), (11.5, 0.25), (12, 0.15), (13, 0.12), (14, 0.12), (15, 0.18), (15.5, 0.19), (16, 0.16), (17, 0.1), (18, 0.12), (19, 0.15), (20, 0.16), (21, 0.18), (22, 0.18), (23, 0.17), (24, 0.18), (25, 0.15), (26, 0.1), (27, 0.15), (28, 0.3), (28.7, 0.41), (29.2, 0.35), (30, 0.1)],
}
F_GE = {
    "O-GPa": [(0, 0.45), (0.5, 0.33), (1, 0.3), (2, 0.33), (3, 0.37), (4, 0.42), (5, 0.43), (5.5, 0.44), (6, 0.45), (7, 0.43), (7.5, 0.45), (8, 0.5), (8.5, 0.55), (8.8, 0.58), (9.5, 0.53), (10, 0.35), (10.5, 0.15), (11, 0.07), (11.5, 0.08), (12, 0.12), (13, 0.12), (15, 0.12), (17, 0.11), (18, 0.15), (18.5, 0.16), (20, 0.14), (21, 0.13), (22, 0.14), (23, 0.18), (23.5, 0.22), (24.3, 0.13), (25, 0.12), (26, 0.12), (27, 0.11), (28, 0.06), (28.5, 0.04), (29.5, 0.06), (30, 0.07)],
    "10-GPa": [(0, 0.45), (0.5, 0.33), (1, 0.3), (2, 0.33), (3, 0.37), (4, 0.41), (5, 0.42), (6, 0.46), (7, 0.43), (8, 0.47), (9, 0.53), (9.3, 0.55), (10, 0.48), (10.5, 0.3), (11, 0.12), (11.5, 0.08), (12, 0.11), (13, 0.12), (14.5, 0.14), (15, 0.13), (17, 0.11), (19, 0.14), (21, 0.15), (22, 0.16), (23, 0.12), (24.3, 0.22), (25, 0.14), (26, 0.13), (27, 0.12), (28, 0.1), (29, 0.06), (30, 0.08)],
    "20-GPa": [(0, 0.45), (0.5, 0.33), (1, 0.3), (2, 0.33), (3, 0.37), (4, 0.4), (5, 0.42), (6, 0.45), (7, 0.42), (8, 0.46), (9, 0.5), (9.5, 0.52), (10, 0.5), (11, 0.3), (11.5, 0.12), (12, 0.1), (13, 0.13), (15, 0.12), (17, 0.11), (19, 0.13), (21, 0.15), (22, 0.16), (23, 0.18), (24, 0.13), (25, 0.17), (25.3, 0.23), (26, 0.13), (27, 0.12), (29, 0.12), (30, 0.12)],
    "30-GPa": [(0, 0.45), (1, 0.3), (2, 0.32), (3, 0.36), (4, 0.38), (5, 0.41), (6, 0.42), (6.5, 0.41), (7.5, 0.44), (8, 0.48), (9, 0.49), (9.5, 0.48), (10, 0.45), (11, 0.35), (11.5, 0.2), (12, 0.12), (13, 0.12), (15, 0.14), (16, 0.12), (17, 0.11), (18, 0.1), (19, 0.12), (21, 0.15), (22, 0.17), (22.5, 0.19), (23, 0.16), (24, 0.12), (24.5, 0.15), (25, 0.17), (26, 0.13), (27, 0.12), (28, 0.11), (29, 0.11), (30, 0.16)],
}
F_SI = {
    "O-GPa": [(0, 0.42), (0.5, 0.36), (1, 0.33), (2, 0.37), (3, 0.42), (4, 0.45), (5, 0.5), (5.5, 0.48), (6, 0.46), (7, 0.48), (8, 0.52), (8.5, 0.52), (9, 0.5), (10, 0.38), (10.5, 0.22), (11, 0.19), (12, 0.21), (13, 0.22), (14, 0.21), (15, 0.2), (16, 0.18), (17, 0.18), (17.5, 0.2), (18.5, 0.23), (19, 0.22), (20, 0.19), (21, 0.18), (22, 0.19), (22.5, 0.2), (23, 0.19), (24, 0.12), (25, 0.07), (26, 0.04), (28, 0.01), (30, 0.005)],
    "10-GPa": [(0, 0.45), (0.5, 0.35), (1, 0.33), (2, 0.36), (3, 0.41), (4, 0.44), (5, 0.5), (5.5, 0.48), (6, 0.45), (6.5, 0.43), (7, 0.45), (8, 0.47), (8.5, 0.48), (9, 0.47), (10, 0.4), (11, 0.25), (11.5, 0.22), (12, 0.22), (13, 0.25), (13.5, 0.26), (14, 0.24), (15, 0.21), (16, 0.21), (17, 0.16), (17.5, 0.15), (18, 0.18), (19, 0.21), (20, 0.19), (20.5, 0.17), (21, 0.2), (21.5, 0.25), (22, 0.22), (22.5, 0.19), (23, 0.22), (23.3, 0.24), (24, 0.18), (25, 0.1), (26, 0.06), (28, 0.02), (30, 0.01)],
    "20-GPa": [(0, 0.45), (0.5, 0.35), (1, 0.33), (2, 0.36), (3, 0.41), (4, 0.44), (5, 0.49), (5.5, 0.47), (6, 0.44), (6.5, 0.43), (7, 0.44), (8, 0.45), (8.5, 0.46), (9, 0.46), (10, 0.41), (11, 0.27), (12, 0.23), (13, 0.27), (14, 0.23), (15.5, 0.22), (17, 0.16), (17.5, 0.15), (18.5, 0.19), (19.5, 0.21), (20.5, 0.18), (21.5, 0.22), (22, 0.26), (22.5, 0.21), (23.5, 0.26), (24.3, 0.18), (25, 0.12), (26, 0.07), (28, 0.03), (30, 0.015)],
    "30-GPa": [(0, 0.36), (0.5, 0.34), (1, 0.33), (2, 0.36), (3, 0.39), (4, 0.39), (5, 0.46), (5.5, 0.44), (6, 0.4), (6.5, 0.38), (7, 0.42), (8, 0.48), (8.5, 0.49), (9.5, 0.46), (10, 0.42), (11, 0.3), (11.5, 0.25), (12, 0.23), (13, 0.25), (13.8, 0.32), (14.5, 0.23), (15, 0.23), (15.5, 0.25), (16, 0.22), (17, 0.16), (17.5, 0.15), (18, 0.18), (19, 0.2), (20, 0.19), (20.5, 0.17), (21, 0.2), (22, 0.25), (22.5, 0.28), (23, 0.23), (23.8, 0.2), (24.5, 0.26), (25, 0.23), (26, 0.12), (27, 0.07), (28, 0.04), (30, 0.02)],
}

# ---------------- (g) energy loss function ----------------
G_SN = {
    "0-GPa": [(0, 0), (2, 0.05), (4, 0.05), (6, 0.1), (8, 0.2), (9, 0.5), (9.6, 1.0), (10, 1.4), (10.5, 1.0), (11, 0.6), (12, 0.6), (14, 0.6), (15, 0.7), (16, 0.8), (17, 0.85), (18, 1.0), (19, 1.3), (20, 1.1), (21, 1.5), (22, 2.5), (22.5, 2.0), (23, 1.6), (24, 1.4), (25, 1.2), (26, 1.8), (26.5, 2.8), (26.8, 3.4), (27.2, 2.0), (27.6, 0.5), (28, 0.1), (29, 0), (30, 0)],
    "10-GPa": [(0, 0), (1.5, 0.1), (2, 0.15), (2.5, 0.05), (5, 0.05), (8, 0.2), (10, 0.4), (11, 0.8), (11.5, 1.0), (12, 0.8), (13, 0.7), (14, 0.6), (15, 0.7), (16, 0.8), (17, 0.8), (18, 0.9), (20, 1.1), (22, 1.3), (23, 1.8), (23.5, 2.2), (24, 1.9), (25, 1.3), (26, 1.5), (27, 2.5), (27.5, 5), (27.9, 10.8), (28.2, 7), (28.5, 2.5), (29, 0.5), (29.5, 0.1), (30, 0)],
    "20-GPa": [(0, 0), (2, 0.05), (8, 0.2), (10, 0.3), (11, 0.6), (12, 0.9), (12.5, 0.9), (13, 0.7), (14, 0.6), (15, 0.6), (16.5, 0.8), (17, 0.7), (18, 0.7), (20, 0.9), (22, 1.1), (23, 1.3), (24, 1.6), (25, 1.7), (26, 1.4), (27, 1.6), (27.8, 3.5), (28.3, 8.8), (28.7, 5), (29, 2), (29.5, 0.4), (30, 0.1)],
    "30-GPa": [(0, 0), (1.5, 0.15), (2, 0.1), (5, 0.05), (8, 0.2), (10, 0.3), (11, 0.5), (12, 0.85), (13, 0.7), (14, 0.6), (15, 0.65), (16.5, 0.9), (17, 0.8), (18, 0.6), (20, 0.8), (22, 1.0), (24, 1.3), (25, 1.6), (26, 1.5), (27, 1.3), (28, 2.5), (28.5, 5), (28.8, 8.8), (29.2, 5), (29.6, 1.5), (30, 0.3)],
}
G_GE = {
    "0-GPa": [(0, 0), (4, 0.03), (6, 0.1), (8, 0.15), (9, 0.3), (9.5, 0.5), (10.2, 0.8), (10.7, 0.7), (11.5, 0.65), (12, 0.65), (13, 0.7), (14, 0.8), (15, 1.0), (16, 1.0), (16.5, 1.15), (17, 1.1), (18, 1.3), (19, 2.0), (20, 2.2), (21, 2.6), (22, 3.0), (22.6, 3.95), (23, 3.5), (23.5, 2.0), (24, 0.8), (24.5, 0.3), (25, 0.1), (26, 0), (30, 0)],
    "10-GPa": [(0, 0), (6, 0.1), (8, 0.15), (9, 0.3), (10, 0.45), (11, 0.65), (12, 0.6), (13, 0.55), (14, 0.75), (15, 0.85), (16, 1.0), (16.5, 1.15), (17, 1.05), (17.5, 1.0), (18, 1.1), (19, 1.3), (19.7, 1.6), (20.5, 1.5), (21, 1.8), (21.8, 2.7), (22.3, 2.6), (23, 3.7), (23.5, 4.35), (24, 4.0), (24.5, 2.5), (25, 1.2), (25.5, 0.5), (26, 0.2), (27, 0.03), (30, 0)],
    "20-GPa": [(0, 0), (6, 0.1), (8, 0.15), (9, 0.3), (10, 0.4), (11, 0.6), (12, 0.6), (13, 0.6), (14, 0.75), (15, 0.85), (16, 1.0), (16.5, 1.2), (17.5, 1.0), (18, 1.05), (19, 1.2), (20, 1.55), (21, 1.6), (22, 2.6), (22.8, 2.5), (23.5, 3.8), (24, 4.7), (24.5, 4.2), (25, 2.5), (25.5, 1.2), (26, 0.5), (27, 0.1), (28, 0.02), (30, 0)],
    "30-GPa": [(0, 0), (6, 0.1), (8, 0.15), (9, 0.28), (10, 0.4), (11, 0.55), (12, 0.55), (13, 0.5), (14, 0.7), (15, 0.8), (16, 0.95), (16.5, 1.1), (17.5, 1.0), (18, 1.0), (19, 1.15), (20, 1.4), (21, 1.4), (22, 2.0), (23, 3.0), (23.5, 2.8), (24, 3.5), (24.7, 4.9), (25, 4.7), (25.5, 3.0), (26, 1.5), (26.5, 0.6), (27, 0.2), (28, 0.03), (30, 0)],
}
G_SI = {
    "0-GPa": [(0, 0), (4, 0.03), (6, 0.1), (8, 0.15), (9, 0.3), (9.5, 0.5), (10.3, 0.8), (10.8, 0.65), (11.5, 0.6), (12, 0.65), (13, 0.75), (14, 0.8), (15, 1.0), (16, 1.0), (16.5, 1.1), (17, 1.1), (18, 1.3), (19, 2.0), (20, 2.2), (21, 2.6), (22, 3.0), (22.6, 3.95), (23, 3.5), (23.5, 2.0), (24, 0.8), (24.5, 0.3), (25, 0.1), (26, 0), (30, 0)],
    "10-GPa": [(0, 0), (6, 0.1), (8, 0.15), (9, 0.3), (10, 0.45), (11, 0.65), (12, 0.6), (13, 0.55), (14, 0.75), (15, 0.85), (16, 1.0), (16.5, 1.15), (17, 1.05), (17.5, 1.0), (18, 1.1), (19, 1.35), (19.7, 1.6), (20.5, 1.5), (21, 1.8), (21.8, 2.7), (22.3, 2.6), (23, 3.7), (23.5, 4.35), (24, 4.0), (24.5, 2.5), (25, 1.2), (25.5, 0.5), (26, 0.2), (27, 0.03), (30, 0)],
    "20-GPa": [(0, 0), (6, 0.1), (8, 0.15), (9, 0.3), (10, 0.4), (11, 0.6), (12, 0.6), (13, 0.6), (14, 0.75), (15, 0.85), (16, 1.0), (16.8, 1.2), (17.5, 1.0), (18, 1.05), (19, 1.2), (20, 1.6), (21, 1.4), (22, 2.6), (22.8, 2.5), (23.5, 3.8), (24, 4.7), (24.5, 4.2), (25, 2.5), (25.5, 1.2), (26, 0.5), (27, 0.1), (28, 0.02), (30, 0)],
    "30-GPa": [(0, 0), (6, 0.1), (8, 0.15), (9, 0.28), (10, 0.4), (11, 0.55), (12, 0.55), (13, 0.5), (14, 0.7), (15, 0.8), (16, 0.95), (16.5, 1.1), (17.5, 1.0), (18, 1.0), (19, 1.15), (20, 1.4), (21, 1.35), (22, 2.0), (23, 3.0), (23.5, 2.8), (24, 3.5), (24.7, 4.9), (25, 4.7), (25.5, 3.0), (26, 1.5), (26.5, 0.6), (27, 0.2), (28, 0.03), (30, 0)],
}

# colours per sub-plot (0, 10, 20, 30 GPa)
BLACK, RED, GREEN, BLUE = "#1e1e1e", "#ff2a2a", "#33dd33", "#3346e6"
TEAL, DBLUE, ORANGE, PURPLE = "#2a9d94", "#3030b4", "#ffa235", "#a43ff0"
LBLUE, PINK, VIOLET, MAGENTA = "#35aef0", "#ee3a8c", "#e06af0", "#e0307a"

PANELS = [
    dict(key="a", x=(92, 323), y=(19, 160, 301, 441), face="#b9deb9",
         ylabel="Real Dielectric  $\\varepsilon_1(\\omega)$",
         data=[A_SN, A_GE, A_SI],
         colors=[[LBLUE, "#e47ceb", GREEN, "#9a3ee0"], [TEAL, DBLUE, ORANGE, PURPLE], [BLACK, RED, GREEN, BLUE]],
         ylims=[(-45, 100), (-8, 33), (-5, 35)],
         yticks=[range(-40, 101, 20), range(-5, 31, 5), range(-5, 36, 5)],
         zero=["#555555", "#2233cc", "#2233cc"],
         fs=dict(tick=7, ylab=7.2, leg=6, title=6.5, xlab=8.5),
         title_pos=[(0.04, 0.88), (0.04, 0.87), (0.05, 0.88)], letter_pos=(0.065, 0.71),
         leg=["ur", "ur", "ur"], show_xlab=True),
    dict(key="b", x=(453, 697), y=(17, 161, 304, 447), face="#fbcdec",
         ylabel="Im-Dielectric $\\varepsilon_2(\\omega)$",
         data=[B_SN, B_GE, B_SI],
         colors=[[BLACK, RED, GREEN, "#4a56ee"], [ORANGE, DBLUE, TEAL, PINK], [TEAL, DBLUE, "#38b8f0", RED]],
         ylims=[(0, 250), (0, 15), (-2, 17)],
         yticks=[range(0, 241, 30), range(0, 15, 2), range(-2, 17, 2)],
         zero=[None, None, None],
         fs=dict(tick=4.5, ylab=6.5, leg=6, title=6.5, xlab=9),
         title_pos=[(0.02, 0.93), (0.01, 0.95), (0.02, 0.94)], letter_pos=(0.065, 0.75),
         leg=["ur", "ur", "ur"], show_xlab=True),
    dict(key="c", x=(823, 1071), y=(-6, 153, 312, 471), face="#fcd6f6",
         ylabel="Refractive Index n(ω)",
         data=[C_SN, C_GE, C_SI],
         colors=[["#9a3ee0", "#ff3f98", "#2a9a2a", "#3636c8"], [TEAL, "#3636c8", ORANGE, PURPLE], [BLACK, RED, "#22dd22", BLUE]],
         ylims=[(-1, 20), (-0.5, 6), (0, 6)],
         yticks=[range(0, 16, 5), range(0, 7, 1), range(0, 7, 1)],
         zero=[None, None, None],
         fs=dict(tick=4, ylab=5, leg=6.8, title=6.8, xlab=8),
         title_pos=[(0.04, 0.89), (0.04, 0.87), (0.025, 0.9)], letter_pos=(0.075, 0.68),
         leg=["ur", "ur", "ur"], show_xlab=False),
    dict(key="d", x=(94, 320), y=(523, 659, 796, 933), face="#b4e5f7",
         ylabel="Conductivity σ(ω)",
         data=[D_SN, D_GE, D_SI],
         colors=[[LBLUE, MAGENTA, VIOLET, "#c9ecd6"], [TEAL, DBLUE, ORANGE, PURPLE], [BLACK, RED, GREEN, BLUE]],
         ylims=[(0, 10), (0, 9), (0, 9)],
         yticks=[range(0, 11, 2), range(0, 9, 2), range(0, 9, 2)],
         zero=[None, None, None],
         fs=dict(tick=6.8, ylab=7, leg=6, title=6, xlab=8.5),
         title_pos=[(0.04, 0.93), (0.02, 0.93), (0.02, 0.94)], letter_pos=(0.085, 0.74),
         leg=["ur", "ur", "ur"], show_xlab=True),
    dict(key="e", x=(477, 695), y=(523, 663, 804, 945), face="#b5f6b5",
         ylabel="Absorption Coefficient I(ω)",
         data=[E_SN, E_GE, E_SI],
         colors=[[BLACK, RED, "#44ee44", BLUE], [TEAL, DBLUE, ORANGE, PURPLE], [LBLUE, "#ee3399", "#d060f0", "#2a9a8a"]],
         ylims=[(0, 3.25), (0, 3.25), (0, 3.25)],
         yticks=[None, None, None],
         zero=[None, None, None],
         fs=dict(tick=5, ylab=5.2, leg=6, title=7, xlab=9),
         title_pos=[(0.04, 0.82), (0.04, 0.87), (0.04, 0.87)], letter_pos=(0.075, 0.68),
         leg=[(0.477, 0.057), (0.454, 0.057), (0.413, 0.085)], show_xlab=True),
    dict(key="f", x=(838, 1062), y=(522, 657, 792, 927), face="#b5dedc",
         ylabel="Reflectivity R(ω)",
         data=[F_SN, F_GE, F_SI],
         colors=[[BLACK, "#2a8a2a", "#9a3ee0", PINK], [LBLUE, PINK, "#e070f0", "#a040f0"], ["#33ee33", "#8833dd", "#3377dd", "#ee9933"]],
         ylims=[(0, 1.0), (0, 0.7), (0, 0.7)],
         yticks=[[0, 0.2, 0.4, 0.6, 0.8, 1.0], [0, 0.1, 0.2, 0.3, 0.4, 0.5, 0.6], [0, 0.1, 0.2, 0.3, 0.4, 0.5, 0.6]],
         zero=[None, None, None],
         fs=dict(tick=6.8, ylab=7, leg=4.6, title=6.5, xlab=8.5),
         title_pos=[(0.065, 0.89), (0.025, 0.89), (0.05, 0.9)], letter_pos=None,
         leg=["ur", "ur", "ur"], show_xlab=True),
    dict(key="g", x=(97, 322), y=(1033, 1170, 1307, 1444), face="#fddcb5",
         ylabel="Loss Function L(ω)",
         data=[G_SN, G_GE, G_SI],
         colors=[[BLACK, RED, GREEN, BLUE], [TEAL, DBLUE, ORANGE, PURPLE], [LBLUE, PINK, BLACK, VIOLET]],
         ylims=[(0, 12), (0, 5.5), (0, 5.5)],
         yticks=[range(0, 13, 2), range(0, 6, 1), range(0, 6, 1)],
         zero=[None, None, None],
         fs=dict(tick=6.2, ylab=6.5, leg=5.5, title=7, xlab=7.5),
         title_pos=[(0.03, 0.86), (0.035, 0.9), (0.04, 0.85)], letter_pos=(0.06, 0.69),
         leg=[(0.04, 0.21), (0.04, 0.22), (0.04, 0.226)], show_xlab=True),
]

E_TICKS = [0, 0.5, 1.0, 1.5, 2.0, 2.5, 3.0]
E_LABELS = ["0.0", "5.0×10⁴", "1.0×10⁵", "1.5×10⁵", "2.0×10⁵", "2.5×10⁵", "3.0×10⁵"]


def px_box(l, t, r, b):
    return [l / W, 1 - b / H, (r - l) / W, (b - t) / H]


def fig_line(fig, x0, y0, x1, y1):
    fig.add_artist(Line2D([x0 / W, x1 / W], [1 - y0 / H, 1 - y1 / H],
                          transform=fig.transFigure, color="#1a1a1a", lw=1.1, zorder=20))


def draw_panel(fig, p):
    l, r = p["x"]
    edges = p["y"]
    fs = p["fs"]
    for i in range(3):
        ax = fig.add_axes(px_box(l, edges[i], r, edges[i + 1]))
        ax.set_facecolor(p["face"])
        curves = p["data"][i]
        for (name, pts), col in zip(curves.items(), p["colors"][i]):
            xs = [pt[0] for pt in pts]
            ys = [pt[1] for pt in pts]
            lw = 1.6 if (p["key"] == "a" and name == "30-GPa" and i != 1) else 1.0
            ax.plot(xs, ys, color=col, lw=lw, label=name, solid_joinstyle="round")
        if p["zero"][i]:
            ax.axhline(0, color=p["zero"][i], ls=(0, (4, 3)), lw=0.9, zorder=1)
        ax.set_xlim(0, 30)
        ax.set_ylim(*p["ylims"][i])
        ax.xaxis.set_major_locator(MultipleLocator(5))
        ax.xaxis.set_minor_locator(MultipleLocator(2.5))
        if p["key"] == "e":
            ax.yaxis.set_major_locator(FixedLocator(E_TICKS))
            ax.yaxis.set_major_formatter(FixedFormatter(E_LABELS))
            ax.yaxis.set_minor_locator(MultipleLocator(0.25))
        else:
            ticks = list(p["yticks"][i])
            ax.yaxis.set_major_locator(FixedLocator(ticks))
            if p["key"] == "f":
                ax.yaxis.set_major_formatter(FixedFormatter([f"{t:.1f}" for t in ticks]))
            else:
                ax.yaxis.set_major_formatter(FixedFormatter([f"{t:g}" for t in ticks]))
            step = ticks[1] - ticks[0]
            ax.yaxis.set_minor_locator(MultipleLocator(step / 2))
        ax.tick_params(which="major", direction="in", length=3, width=0.7,
                       labelsize=fs["tick"], pad=1.5, colors="#222222")
        ax.tick_params(which="minor", direction="in", length=1.6, width=0.6, colors="#222222")
        for s in ax.spines.values():
            s.set_color("#4a4a4a")
            s.set_linewidth(0.9)
        if i < 2:
            ax.tick_params(labelbottom=False)
        elif p["show_xlab"]:
            ax.set_xlabel("Energy (eV)", family=SERIF, fontsize=fs["xlab"], labelpad=1)
        ax.set_ylabel(p["ylabel"], family=SERIF, fontsize=fs["ylab"], labelpad=2)

        tx, ty = p["title_pos"][i]
        ax.text(tx, ty, TITLES[i], transform=ax.transAxes, family=SERIF,
                fontsize=fs["title"], ha="left", va="center", color="#222222")
        if i == 0 and p["letter_pos"]:
            lx, ly = p["letter_pos"]
            ax.text(lx, ly, p["key"], transform=ax.transAxes, family=SERIF,
                    fontsize=fs["title"] + 1.5, ha="center", va="center",
                    bbox=dict(boxstyle="square,pad=0.3", fc="white", ec="#999999", lw=0.6))

        labels = PRESSURES_O if p["key"] == "f" else PRESSURES
        handles, _ = ax.get_legend_handles_labels()
        leg_kw = dict(prop={"family": SERIF, "size": fs["leg"]}, frameon=True,
                      fancybox=False, framealpha=1, edgecolor="#9a9a9a",
                      borderpad=0.3, labelspacing=0.25, handlelength=2.4,
                      handletextpad=0.4)
        spot = p["leg"][i]
        if spot == "ur":
            lg = ax.legend(handles, labels, loc="upper right", borderaxespad=0.8, **leg_kw)
        else:
            lg = ax.legend(handles, labels, loc="lower left", bbox_to_anchor=spot,
                           borderaxespad=0, **leg_kw)
        lg.get_frame().set_linewidth(0.7)


fig = plt.figure(figsize=(W / 100, H / 100), dpi=100)
fig.patch.set_facecolor("white")

for panel in PANELS:
    draw_panel(fig, panel)

# clip panel (c) where its image was cropped in the table cell
fig.add_artist(Rectangle((0, 1 - 9.5 / H), 1, 9.5 / H, transform=fig.transFigure,
                         fc="white", ec="none", zorder=15))
fig.add_artist(Rectangle((753 / W, 1 - 496 / H), (W - 753) / W, 17.5 / H,
                         transform=fig.transFigure, fc="white", ec="none", zorder=15))

# table grid, upper block
fig_line(fig, 7, 10, W, 10)
fig_line(fig, 7, 497, W, 497)
fig_line(fig, 7, 1012, W, 1012)
fig_line(fig, 7.5, 10, 7.5, 1012)
fig_line(fig, 380, 10, 380, 1012)
fig_line(fig, 751, 10, 751, 1012)
# lower block
fig_line(fig, 12, 1024, W, 1024)
fig_line(fig, 12, 1024, 12, H)
fig_line(fig, 380, 1024, 380, H)
fig_line(fig, 750, 1024, 750, H)

fig.savefig("out.png", dpi=100, facecolor="white")
